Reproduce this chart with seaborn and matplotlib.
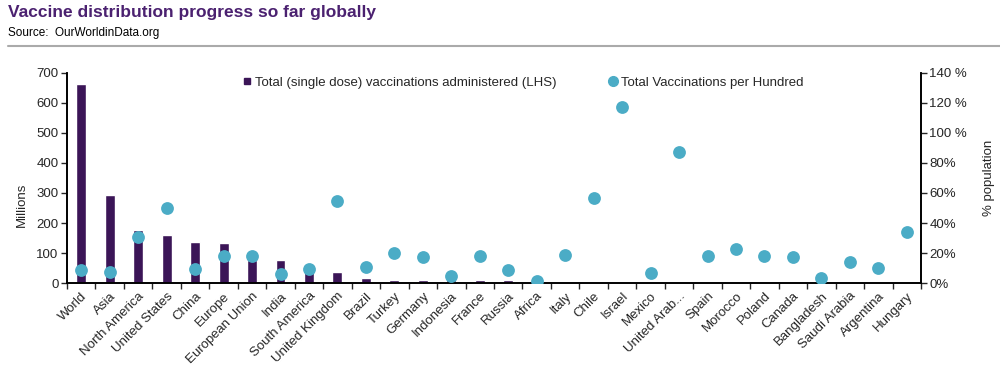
import numpy as np
import pandas as pd
import matplotlib
matplotlib.use("Agg")
import matplotlib.pyplot as plt
from matplotlib.lines import Line2D
from matplotlib.ticker import FixedLocator, FuncFormatter
import seaborn as sns

# -----------------------------
# Data
# -----------------------------
categories = [
    "World", "Asia", "North America", "United States", "China", "Europe",
    "European Union", "India", "South America", "United Kingdom", "Brazil",
    "Turkey", "Germany", "Indonesia", "France", "Russia", "Africa", "Italy",
    "Chile", "Israel", "Mexico", "United Arab...", "Spain", "Morocco",
    "Poland", "Canada", "Bangladesh", "Saudi Arabia", "Argentina", "Hungary",
]
# Total (single dose) vaccinations administered, millions
total_millions = [
    662, 292, 178, 160, 137, 134, 78, 77, 45, 37, 17,
    11, 11, 11, 11, 11, 3, 1.5, 1.5, 1.5, 1.5, 1.5, 1.5,
    1.5, 1.5, 1.5, 1.5, 1.5, 1.5, 1.5,
]
# Total vaccinations per hundred (% population)
per_hundred = [
    8.7, 7.1, 31, 49.8, 9.4, 18.1, 18.1, 6.0, 9.4, 54.7, 10.7,
    20.1, 17.2, 4.9, 18.1, 8.9, 1.6, 19.0, 56.5, 117, 6.9, 87.3,
    18.3, 23.0, 18.1, 17.2, 3.1, 14.3, 9.8, 34.0,
]

bar_color = "#3B1557"
dot_color = "#4BACC6"
title_color = "#4B2170"

df = pd.DataFrame({
    "country": categories,
    "total": total_millions,
    "per_hundred": per_hundred,
})
df["pos"] = np.arange(len(df))

sns.set_style("white")
plt.rcParams["font.family"] = ["Liberation Sans", "DejaVu Sans"]

fig = plt.figure(figsize=(10, 3.7), dpi=100)
ax = fig.add_axes([0.067, 0.235, 0.854, 0.568])

# bars on the left axis
sns.barplot(data=df, x="country", y="total", color=bar_color,
            width=0.35, saturation=1, ax=ax)

ax.set_xlim(-0.5, len(df) - 0.5)
ax.set_ylim(0, 700)
ax.set_yticks(range(0, 701, 100))
ax.set_xlabel("")
ax.set_ylabel("Millions", fontsize=9.5)
ax.yaxis.set_label_coords(-0.046, 0.37)

# dots on the right axis
ax2 = ax.twinx()
sns.scatterplot(data=df, x="pos", y="per_hundred", color=dot_color,
                s=85, linewidth=0, ax=ax2, zorder=3)
ax2.set_ylim(0, 140)
ax2.set_yticks(range(0, 141, 20))
ax2.yaxis.set_major_formatter(
    FuncFormatter(lambda v, p: f"{v:.0f} %" if v >= 100 else f"{v:.0f}%"))
ax2.set_ylabel("% population", fontsize=9.5)
ax2.yaxis.set_label_coords(1.073, 0.5)
ax2.set_xlim(-0.5, len(df) - 0.5)
ax2.set_xlabel("")

# spines / ticks in Excel style
for a in (ax, ax2):
    a.spines["top"].set_visible(False)
    for s in ("left", "right", "bottom"):
        a.spines[s].set_color("black")
        a.spines[s].set_linewidth(1.2)
ax.tick_params(axis="y", direction="out", length=4, width=1,
               labelsize=9.5, left=True, pad=2)
ax2.tick_params(axis="y", direction="out", length=4, width=1,
                labelsize=9.5, right=True, pad=2)

ax.set_xticks(df["pos"])
ax.set_xticklabels(categories, rotation=45, ha="right",
                   rotation_mode="anchor", fontsize=9.5)
ax.tick_params(axis="x", which="major", length=0, pad=5)
ax.xaxis.set_minor_locator(FixedLocator(np.arange(-0.5, len(df), 1)))
ax.tick_params(axis="x", which="minor", direction="out",
               length=4, width=1, bottom=True)

# legend
handles = [
    Line2D([], [], marker="s", linestyle="none", color=bar_color,
           markersize=4),
    Line2D([], [], marker="o", linestyle="none", color=dot_color,
           markersize=7),
]
labels = [
    "Total (single dose) vaccinations administered (LHS)",
    "Total Vaccinations per Hundred",
]
ax2.legend(handles, labels, loc="upper center", ncol=2, frameon=False,
           fontsize=9.5, bbox_to_anchor=(0.533, 1.04), handletextpad=0.1,
           columnspacing=3.8, handlelength=1)

# title, source and separator line
fig.text(0.008, 0.965, "Vaccine distribution progress so far globally",
         fontsize=12.5, fontweight="bold", color=title_color, va="center")
fig.text(0.008, 0.91, "Source:  OurWorldinData.org", fontsize=8.5,
         color="black", va="center")
fig.add_artist(Line2D([0.008, 1.0], [0.875, 0.875], color="#AAAAAA",
                      linewidth=1.5, transform=fig.transFigure))

fig.savefig("out.png", dpi=100)
plt.close(fig)
